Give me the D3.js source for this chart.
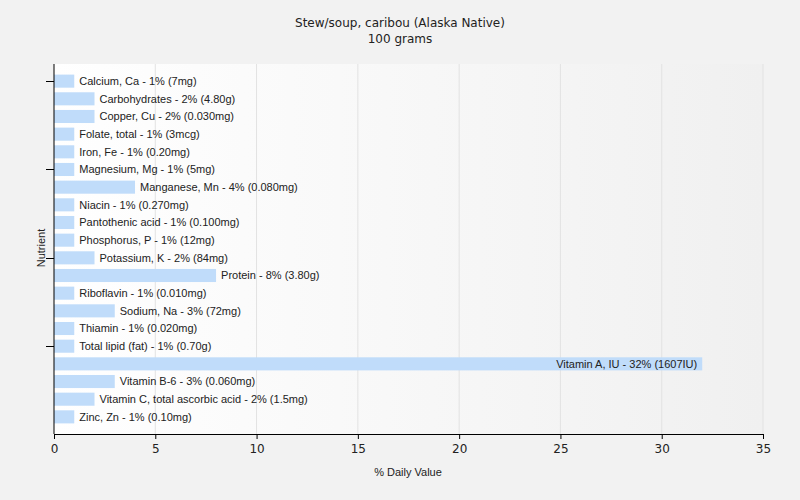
<!DOCTYPE html>
<html><head><meta charset="utf-8">
<script src="https://cdn.jsdelivr.net/npm/d3@7"></script>
<style>body{margin:0;background:#f2f2f2;}svg{display:block;}</style>
</head><body>
<svg id="c" width="800" height="500"></svg>
<script>
const nutrients = ["Calcium, Ca","Carbohydrates","Copper, Cu","Folate, total","Iron, Fe","Magnesium, Mg","Manganese, Mn","Niacin","Pantothenic acid","Phosphorus, P","Potassium, K","Protein","Riboflavin","Sodium, Na","Thiamin","Total lipid (fat)","Vitamin A, IU","Vitamin B-6","Vitamin C, total ascorbic acid","Zinc, Zn"];
const dailyValues = [1,2,2,1,1,1,4,1,1,1,2,8,1,3,1,1,32,3,2,1];
const amounts = ["7mg","4.80g","0.030mg","3mcg","0.20mg","5mg","0.080mg","0.270mg","0.100mg","12mg","84mg","3.80g","0.010mg","72mg","0.020mg","0.70g","1607IU","0.060mg","1.5mg","0.10mg"];
const xTicks = [0,5,10,15,20,25,30,35];
const titleLines = ["Stew/soup, caribou (Alaska Native)","100 grams"];

const svg = d3.select("#c");
const font = "Tahoma, 'DejaVu Sans', sans-serif";
const lfont = "'Liberation Sans', Arial, sans-serif";
const L=54, R=763, T=64, B=434;

const defs = svg.append("defs");
const g = defs.append("linearGradient").attr("id","bg").attr("x1","0").attr("x2","1").attr("y1","0").attr("y2","0");
g.append("stop").attr("offset","0").attr("stop-color","#ffffff");
g.append("stop").attr("offset","1").attr("stop-color","#f0f0f0");

svg.append("rect").attr("width",800).attr("height",500).attr("fill","#f2f2f2");
svg.append("rect").attr("x",L).attr("y",T).attr("width",R-L).attr("height",B-T).attr("fill","url(#bg)");

const x = d3.scaleLinear().domain([0,35]).range([L,R]);
const y = d3.scaleBand().domain(nutrients).range([T,B]).paddingInner(0.26).paddingOuter(0.6);

svg.append("g").selectAll("line").data(xTicks.slice(1)).join("line")
  .attr("x1",d=>x(d)).attr("x2",d=>x(d)).attr("y1",T).attr("y2",B)
  .attr("stroke","#e2e2e2").attr("stroke-width",1);

svg.append("g").selectAll("rect").data(nutrients).join("rect")
  .attr("x",x(0)).attr("y",d=>y(d)).attr("width",(d,i)=>x(dailyValues[i])-x(0)).attr("height",y.bandwidth())
  .attr("fill","#c0dcfa");

svg.append("g").selectAll("text").data(nutrients).join("text")
  .attr("font-family",lfont).attr("font-size",11).attr("fill","#222")
  .attr("y",d=>y(d)+y.bandwidth()/2).attr("dy","0.35em")
  .each(function(d,i){
    const s = d3.select(this);
    s.text(`${d} - ${dailyValues[i]}% (${amounts[i]})`);
    const w = this.getComputedTextLength();
    const end = x(dailyValues[i]);
    if (end + 5 + w > R) { s.attr("x", end-5).attr("text-anchor","end"); }
    else { s.attr("x", end+5); }
  });

// axes
const xa = svg.append("g").attr("transform",`translate(0,${B})`).call(d3.axisBottom(x).tickValues(xTicks).tickSize(5).tickSizeOuter(0));
xa.select(".domain").attr("stroke","#000");
xa.selectAll("text").attr("font-family",font).attr("font-size",12).attr("fill","#222").attr("dy","0.9em");

svg.append("line").attr("x1",L).attr("x2",L).attr("y1",T).attr("y2",B).attr("stroke","#000");
svg.append("g").selectAll("line").data(nutrients.filter((d,i)=>i%5===0)).join("line")
  .attr("x1",L-8).attr("x2",L).attr("y1",d=>Math.round(y(d)+y.bandwidth()/2)+0.5).attr("y2",d=>Math.round(y(d)+y.bandwidth()/2)+0.5)
  .attr("stroke","#000");

svg.append("text").attr("x",408).attr("y",476).attr("text-anchor","middle")
  .attr("font-family",lfont).attr("font-size",11).attr("fill","#222").text("% Daily Value");
svg.append("text").attr("transform","translate(45,248) rotate(-90)").attr("text-anchor","middle")
  .attr("font-family",lfont).attr("font-size",11).attr("fill","#222").text("Nutrient");

svg.append("g").selectAll("text").data(titleLines).join("text")
  .attr("x",400).attr("y",(d,i)=>27+i*16).attr("text-anchor","middle")
  .attr("font-family",font).attr("font-size",12).attr("fill","#222").text(d=>d);
</script>
</body></html>
